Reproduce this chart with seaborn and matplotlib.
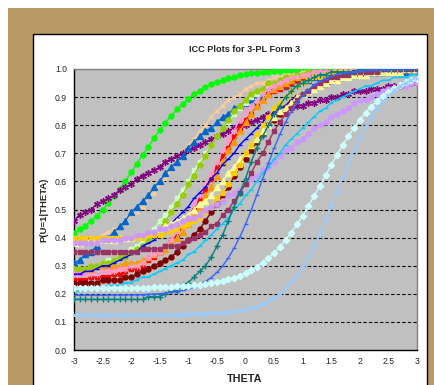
import matplotlib
matplotlib.use('Agg')
import matplotlib.pyplot as plt
import seaborn as sns
from matplotlib.patches import Rectangle

sns.set_style('white')
plt.rcParams['font.family'] = ['Liberation Sans', 'DejaVu Sans']

# theta categories -3.0 .. 3.0 in steps of 0.1
theta = [round(i * 0.1, 1) for i in range(-30, 31)]

# P(U=1|THETA), one value per theta point
green = [0.417, 0.429, 0.443, 0.460, 0.478, 0.499, 0.522, 0.547, 0.574, 0.602,
         0.632, 0.663, 0.694, 0.724, 0.754, 0.782, 0.809, 0.833, 0.856, 0.876,
         0.894, 0.910, 0.923, 0.935, 0.946, 0.954, 0.962, 0.968, 0.973, 0.978,
         0.982, 0.985, 0.987, 0.989, 0.991, 0.993, 0.994, 0.995, 0.996, 0.997,
         0.997, 0.998, 0.998, 0.998, 0.999, 0.999, 0.999, 0.999, 0.999, 0.999,
         0.999, 0.999, 0.999, 0.999, 0.999, 0.999, 0.999, 0.999, 0.999, 0.999,
         0.999]
peach = [0.38, 0.38, 0.39, 0.39, 0.40, 0.41, 0.42, 0.43, 0.44, 0.46,
         0.48, 0.49, 0.51, 0.54, 0.56, 0.59, 0.61, 0.64, 0.67, 0.70,
         0.73, 0.75, 0.78, 0.80, 0.83, 0.85, 0.87, 0.89, 0.90, 0.91,
         0.93, 0.94, 0.95, 0.95, 0.96, 0.97, 0.97, 0.98, 0.98, 0.98,
         0.99, 0.99, 0.99, 0.99, 0.99, 0.99, 1.00, 1.00, 1.00, 1.00,
         1.00, 1.00, 1.00, 1.00, 1.00, 1.00, 1.00, 1.00, 1.00, 1.00,
         1.00]
purple = [0.46, 0.48, 0.49, 0.50, 0.52, 0.53, 0.54, 0.55, 0.57, 0.58,
          0.59, 0.61, 0.62, 0.63, 0.64, 0.65, 0.67, 0.68, 0.69, 0.70,
          0.71, 0.72, 0.73, 0.74, 0.75, 0.76, 0.77, 0.78, 0.79, 0.80,
          0.80, 0.81, 0.82, 0.83, 0.84, 0.84, 0.85, 0.86, 0.86, 0.87,
          0.87, 0.88, 0.88, 0.89, 0.89, 0.90, 0.90, 0.91, 0.91, 0.92,
          0.92, 0.92, 0.93, 0.93, 0.93, 0.94, 0.94, 0.94, 0.95, 0.95,
          0.95]
bluetri = [0.31, 0.32, 0.34, 0.35, 0.37, 0.39, 0.40, 0.42, 0.44, 0.46,
           0.49, 0.51, 0.53, 0.55, 0.58, 0.60, 0.63, 0.65, 0.67, 0.69,
           0.72, 0.74, 0.76, 0.78, 0.79, 0.81, 0.83, 0.84, 0.86, 0.87,
           0.88, 0.89, 0.90, 0.91, 0.92, 0.93, 0.94, 0.94, 0.95, 0.95,
           0.96, 0.96, 0.97, 0.97, 0.97, 0.98, 0.98, 0.98, 0.98, 0.98,
           0.99, 0.99, 0.99, 0.99, 0.99, 0.99, 0.99, 0.99, 0.99, 1.00,
           1.00]
ltgreen = [0.29, 0.29, 0.29, 0.30, 0.30, 0.31, 0.32, 0.32, 0.33, 0.35,
           0.36, 0.37, 0.39, 0.41, 0.43, 0.46, 0.48, 0.51, 0.54, 0.57,
           0.60, 0.64, 0.67, 0.70, 0.73, 0.76, 0.79, 0.81, 0.84, 0.86,
           0.88, 0.90, 0.91, 0.92, 0.94, 0.95, 0.95, 0.96, 0.97, 0.97,
           0.98, 0.98, 0.98, 0.99, 0.99, 0.99, 0.99, 0.99, 0.99, 1.00,
           1.00, 1.00, 1.00, 1.00, 1.00, 1.00, 1.00, 1.00, 1.00, 1.00,
           1.00]
red = [0.25, 0.25, 0.25, 0.26, 0.26, 0.26, 0.26, 0.27, 0.27, 0.28,
       0.29, 0.29, 0.30, 0.32, 0.33, 0.35, 0.37, 0.39, 0.41, 0.44,
       0.47, 0.50, 0.54, 0.57, 0.61, 0.65, 0.69, 0.72, 0.76, 0.79,
       0.82, 0.84, 0.87, 0.89, 0.91, 0.92, 0.93, 0.94, 0.95, 0.96,
       0.97, 0.97, 0.98, 0.98, 0.99, 0.99, 0.99, 0.99, 0.99, 0.99,
       1.00, 1.00, 1.00, 1.00, 1.00, 1.00, 1.00, 1.00, 1.00, 1.00,
       1.00]
orange = [0.29, 0.29, 0.29, 0.29, 0.30, 0.30, 0.30, 0.30, 0.30, 0.31,
          0.31, 0.31, 0.32, 0.33, 0.34, 0.35, 0.36, 0.38, 0.40, 0.42,
          0.45, 0.48, 0.51, 0.55, 0.58, 0.62, 0.67, 0.71, 0.74, 0.78,
          0.81, 0.84, 0.87, 0.89, 0.91, 0.93, 0.94, 0.95, 0.96, 0.97,
          0.98, 0.98, 0.98, 0.99, 0.99, 0.99, 0.99, 0.99, 1.00, 1.00,
          1.00, 1.00, 1.00, 1.00, 1.00, 1.00, 1.00, 1.00, 1.00, 1.00,
          1.00]
lime = [0.29, 0.29, 0.29, 0.30, 0.30, 0.31, 0.31, 0.32, 0.33, 0.33,
        0.35, 0.36, 0.37, 0.39, 0.41, 0.43, 0.46, 0.49, 0.52, 0.55,
        0.59, 0.62, 0.66, 0.69, 0.73, 0.76, 0.79, 0.82, 0.85, 0.87,
        0.89, 0.91, 0.92, 0.93, 0.95, 0.95, 0.96, 0.97, 0.97, 0.98,
        0.98, 0.99, 0.99, 0.99, 0.99, 0.99, 0.99, 1.00, 1.00, 1.00,
        1.00, 1.00, 1.00, 1.00, 1.00, 1.00, 1.00, 1.00, 1.00, 1.00,
        1.00]
pink = [0.27, 0.27, 0.27, 0.27, 0.27, 0.28, 0.28, 0.28, 0.29, 0.29,
        0.30, 0.30, 0.31, 0.33, 0.34, 0.35, 0.37, 0.39, 0.42, 0.45,
        0.48, 0.52, 0.55, 0.59, 0.63, 0.67, 0.71, 0.75, 0.78, 0.82,
        0.85, 0.87, 0.89, 0.91, 0.93, 0.94, 0.95, 0.96, 0.97, 0.97,
        0.98, 0.98, 0.99, 0.99, 0.99, 0.99, 0.99, 1.00, 1.00, 1.00,
        1.00, 1.00, 1.00, 1.00, 1.00, 1.00, 1.00, 1.00, 1.00, 1.00,
        1.00]
blue = [0.27, 0.27, 0.28, 0.28, 0.29, 0.30, 0.30, 0.31, 0.32, 0.33,
        0.34, 0.35, 0.37, 0.38, 0.39, 0.41, 0.43, 0.45, 0.47, 0.49,
        0.51, 0.54, 0.56, 0.58, 0.61, 0.63, 0.66, 0.68, 0.70, 0.73,
        0.75, 0.77, 0.79, 0.81, 0.83, 0.85, 0.86, 0.87, 0.89, 0.90,
        0.91, 0.92, 0.93, 0.94, 0.94, 0.95, 0.96, 0.96, 0.97, 0.97,
        0.97, 0.98, 0.98, 0.98, 0.98, 0.99, 0.99, 0.99, 0.99, 0.99,
        0.99]
maroon = [0.24, 0.24, 0.24, 0.24, 0.24, 0.25, 0.25, 0.25, 0.25, 0.26,
          0.26, 0.27, 0.28, 0.29, 0.30, 0.31, 0.32, 0.33, 0.35, 0.37,
          0.39, 0.41, 0.43, 0.46, 0.49, 0.52, 0.55, 0.58, 0.62, 0.65,
          0.68, 0.71, 0.74, 0.77, 0.80, 0.82, 0.84, 0.86, 0.88, 0.90,
          0.91, 0.92, 0.93, 0.94, 0.95, 0.96, 0.97, 0.97, 0.98, 0.98,
          0.98, 0.98, 0.99, 0.99, 0.99, 0.99, 0.99, 0.99, 1.00, 1.00,
          1.00]
ltyell = [0.38, 0.38, 0.39, 0.39, 0.39, 0.39, 0.39, 0.39, 0.40, 0.40,
          0.40, 0.41, 0.41, 0.42, 0.42, 0.43, 0.44, 0.45, 0.46, 0.47,
          0.48, 0.50, 0.52, 0.53, 0.55, 0.58, 0.60, 0.63, 0.65, 0.68,
          0.70, 0.73, 0.75, 0.78, 0.80, 0.83, 0.85, 0.86, 0.88, 0.90,
          0.91, 0.92, 0.93, 0.94, 0.95, 0.96, 0.96, 0.97, 0.97, 0.98,
          0.98, 0.98, 0.99, 0.99, 0.99, 0.99, 0.99, 0.99, 1.00, 1.00,
          1.00]
gold = [0.40, 0.40, 0.40, 0.40, 0.40, 0.40, 0.40, 0.40, 0.40, 0.40,
        0.40, 0.40, 0.40, 0.41, 0.41, 0.41, 0.42, 0.42, 0.43, 0.44,
        0.45, 0.46, 0.47, 0.49, 0.51, 0.54, 0.56, 0.59, 0.63, 0.66,
        0.70, 0.73, 0.77, 0.80, 0.83, 0.86, 0.88, 0.90, 0.92, 0.94,
        0.95, 0.96, 0.97, 0.97, 0.98, 0.98, 0.99, 0.99, 0.99, 0.99,
        1.00, 1.00, 1.00, 1.00, 1.00, 1.00, 1.00, 1.00, 1.00, 1.00,
        1.00]
lav = [0.38, 0.38, 0.38, 0.38, 0.38, 0.39, 0.39, 0.39, 0.39, 0.40,
       0.40, 0.41, 0.41, 0.42, 0.42, 0.43, 0.43, 0.44, 0.45, 0.46,
       0.47, 0.47, 0.48, 0.50, 0.51, 0.52, 0.53, 0.55, 0.56, 0.57,
       0.59, 0.61, 0.62, 0.64, 0.65, 0.67, 0.69, 0.71, 0.72, 0.74,
       0.75, 0.77, 0.79, 0.80, 0.81, 0.83, 0.84, 0.85, 0.86, 0.88,
       0.89, 0.89, 0.90, 0.91, 0.92, 0.93, 0.93, 0.94, 0.94, 0.95,
       0.95]
plum = [0.35, 0.35, 0.35, 0.35, 0.35, 0.35, 0.35, 0.35, 0.35, 0.35,
        0.35, 0.35, 0.36, 0.36, 0.36, 0.36, 0.37, 0.37, 0.37, 0.38,
        0.39, 0.40, 0.41, 0.42, 0.44, 0.45, 0.48, 0.50, 0.53, 0.56,
        0.59, 0.63, 0.67, 0.70, 0.74, 0.78, 0.81, 0.84, 0.86, 0.89,
        0.91, 0.92, 0.94, 0.95, 0.96, 0.97, 0.97, 0.98, 0.98, 0.99,
        0.99, 0.99, 0.99, 0.99, 1.00, 1.00, 1.00, 1.00, 1.00, 1.00,
        1.00]
sky = [0.21, 0.21, 0.22, 0.22, 0.22, 0.22, 0.23, 0.23, 0.23, 0.24,
       0.24, 0.25, 0.26, 0.26, 0.27, 0.28, 0.29, 0.30, 0.31, 0.32,
       0.34, 0.35, 0.37, 0.39, 0.41, 0.43, 0.45, 0.47, 0.50, 0.52,
       0.55, 0.57, 0.60, 0.63, 0.65, 0.68, 0.70, 0.73, 0.75, 0.77,
       0.79, 0.81, 0.83, 0.85, 0.86, 0.88, 0.89, 0.90, 0.91, 0.92,
       0.93, 0.94, 0.94, 0.95, 0.96, 0.96, 0.97, 0.97, 0.97, 0.98,
       0.98]
teal = [0.18, 0.18, 0.18, 0.18, 0.18, 0.18, 0.18, 0.18, 0.18, 0.18,
        0.18, 0.18, 0.18, 0.19, 0.19, 0.19, 0.20, 0.21, 0.21, 0.23,
        0.24, 0.26, 0.28, 0.30, 0.33, 0.37, 0.41, 0.46, 0.51, 0.56,
        0.61, 0.67, 0.72, 0.76, 0.80, 0.84, 0.87, 0.90, 0.92, 0.94,
        0.95, 0.96, 0.97, 0.98, 0.98, 0.99, 0.99, 0.99, 0.99, 0.99,
        1.00, 1.00, 1.00, 1.00, 1.00, 1.00, 1.00, 1.00, 1.00, 1.00,
        1.00]
royal = [0.195, 0.195, 0.195, 0.195, 0.195, 0.195, 0.195, 0.196, 0.196, 0.196,
         0.196, 0.197, 0.197, 0.198, 0.199, 0.200, 0.202, 0.205, 0.208, 0.212,
         0.217, 0.224, 0.232, 0.244, 0.258, 0.276, 0.299, 0.328, 0.362, 0.402,
         0.447, 0.498, 0.553, 0.609, 0.664, 0.718, 0.767, 0.810, 0.848, 0.879,
         0.905, 0.926, 0.943, 0.956, 0.966, 0.974, 0.981, 0.985, 0.989, 0.991,
         0.994, 0.995, 0.996, 0.997, 0.998, 0.998, 0.999, 0.999, 0.999, 0.999,
         0.999]
turq = [0.220, 0.220, 0.220, 0.220, 0.220, 0.220, 0.221, 0.221, 0.221, 0.221,
        0.221, 0.222, 0.222, 0.222, 0.223, 0.223, 0.224, 0.225, 0.226, 0.227,
        0.229, 0.230, 0.232, 0.235, 0.238, 0.242, 0.246, 0.251, 0.258, 0.265,
        0.274, 0.284, 0.296, 0.310, 0.327, 0.345, 0.367, 0.391, 0.417, 0.447,
        0.478, 0.512, 0.548, 0.584, 0.621, 0.658, 0.694, 0.728, 0.761, 0.791,
        0.819, 0.844, 0.866, 0.886, 0.903, 0.918, 0.931, 0.942, 0.952, 0.960,
        0.966]
paleblue = [0.125, 0.125, 0.125, 0.125, 0.125, 0.125, 0.125, 0.125, 0.125, 0.125,
            0.125, 0.125, 0.125, 0.125, 0.125, 0.126, 0.126, 0.126, 0.126, 0.127,
            0.127, 0.127, 0.128, 0.129, 0.130, 0.131, 0.133, 0.135, 0.138, 0.141,
            0.145, 0.150, 0.156, 0.164, 0.174, 0.186, 0.201, 0.219, 0.241, 0.267,
            0.297, 0.331, 0.371, 0.414, 0.462, 0.511, 0.562, 0.614, 0.663, 0.711,
            0.754, 0.794, 0.828, 0.858, 0.884, 0.906, 0.924, 0.939, 0.951, 0.961,
            0.969]

# (values, colour, marker, marker size) in drawing order
series = [
    (green, '#00FF00', 'o', 3.6),
    (peach, '#FFCC99', 'x', 3.2),
    (purple, '#800080', (6, 2, 0), 4.8),
    (bluetri, '#0066CC', '^', 4.0),
    (ltgreen, '#CCFFCC', 's', 3.5),
    (red, '#FF0000', 's', 3.5),
    (orange, '#FF9900', '^', 4.0),
    (lime, '#99CC00', 'o', 3.6),
    (pink, '#FF99CC', (6, 2, 0), 4.3),
    (blue, '#0000FF', '_', 3.0),
    (maroon, '#800000', 'o', 3.6),
    (ltyell, '#FFFF99', '^', 4.0),
    (gold, '#FFCC00', 's', 3.5),
    (lav, '#CC99FF', 'o', 3.6),
    (plum, '#993366', 's', 3.5),
    (sky, '#00CCFF', '_', 3.0),
    (teal, '#008080', '+', 4.0),
    (royal, '#3366FF', '_', 3.0),
    (turq, '#CCFFFF', 'D', 3.2),
    (paleblue, '#99CCFF', 'x', 3.2),
]

fig = plt.figure(figsize=(4.34, 3.85), dpi=100)
# tan outer frame and white chart panel
fig.patches.append(Rectangle((8 / 434, 0), 1, 1 - 8 / 385, transform=fig.transFigure,
                             facecolor='#B89A66', edgecolor='none', zorder=-2))
fig.patches.append(Rectangle((33 / 434, -0.05), 394 / 434, 1.05 - 34 / 385, transform=fig.transFigure,
                             facecolor='white', edgecolor='black', linewidth=1, zorder=-1))

ax = fig.add_axes([74 / 434, 35 / 385, 343 / 434, 281 / 385])
ax.set_facecolor('#C0C0C0')

for vals, col, mk, ms in series:
    sns.lineplot(x=theta, y=vals, ax=ax, color=col, marker=mk, markersize=ms,
                 markeredgecolor=col, markeredgewidth=1, linewidth=1, zorder=3)

ax.set_xlim(-3, 3)
ax.set_ylim(0, 1)
ax.set_yticks([i / 10 for i in range(11)])
ax.set_yticklabels([f'{i / 10:.1f}' for i in range(11)])
ax.set_xticks([-3, -2.5, -2, -1.5, -1, -0.5, 0, 0.5, 1, 1.5, 2, 2.5, 3])
ax.set_xticklabels(['-3', '-2.5', '-2', '-1.5', '-1', '-0.5', '0', '0.5', '1', '1.5', '2', '2.5', '3'])
ax.set_xticks(theta, minor=True)
ax.tick_params(axis='both', which='major', direction='out', length=3, width=1,
               labelsize=6.2, color='black', pad=2)
ax.tick_params(axis='x', which='minor', direction='out', length=3, width=1, color='black')
for y in [i / 10 for i in range(1, 10)]:
    ax.axhline(y, color='black', linestyle=(0, (3, 2)), linewidth=0.8, zorder=2)
for s in ['left', 'bottom']:
    ax.spines[s].set_color('black')
    ax.spines[s].set_linewidth(1)
for s in ['top', 'right']:
    ax.spines[s].set_color('#808080')
    ax.spines[s].set_linewidth(1)
ax.set_xlabel('')
ax.set_ylabel('')

fig.text(245 / 434, 1 - 50 / 385, 'ICC Plots for 3-PL Form 3', ha='center', va='center',
         fontsize=6.6, fontweight='bold')
fig.text(245 / 434, 1 - 379 / 385, 'THETA', ha='center', va='center', fontsize=7.8, fontweight='bold')
fig.text(44 / 434, 1 - 210 / 385, 'P(U=1|THETA)', ha='center', va='center', rotation=90,
         fontsize=6.8, fontweight='bold')

fig.savefig('out.png', dpi=100)
